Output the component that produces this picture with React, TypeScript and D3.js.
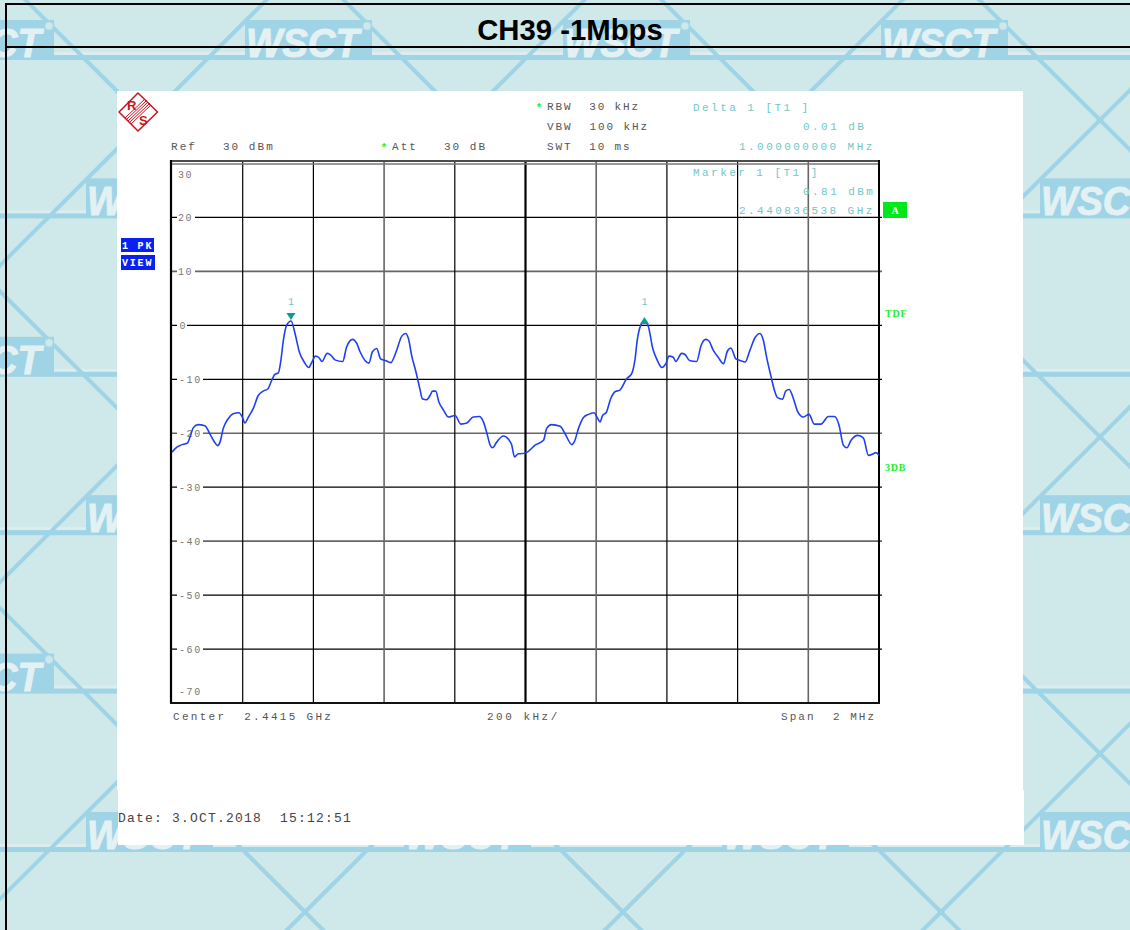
import React from "react";
import * as d3 from "d3";

const titleText = "CH39 -1Mbps";
const traceFreqKHz = [0,13,25,44,51,60,73,93,107,122,129,136,145,159,173,189,199,206,216,230,244,258,271,282,291,301,308,315,324,337,348,360,374,387,395,406,416,424,439,449,461,483,494,511,523,532,546,557,567,579,590,603,619,634,650,661,669,678,690,702,708,720,730,737,746,755,768,782,801,817,834,852,869,881,890,900,907,919,937,953,961,969,980,985,1005,1027,1051,1060,1074,1098,1112,1131,1138,1150,1164,1178,1194,1203,1211,1218,1228,1241,1253,1267,1286,1300,1310,1316,1326,1338,1348,1360,1371,1386,1397,1406,1418,1425,1442,1451,1464,1484,1497,1510,1519,1531,1546,1560,1571,1581,1595,1607,1621,1635,1649,1663,1673,1682,1695,1704,1713,1727,1736,1746,1758,1770,1786,1802,1817,1836,1857,1874,1887,1899,1909,1921,1940,1956,1970,1984,1991,2000];
const traceLevelDbm = [-23.5,-22.6,-22.2,-21.8,-20.7,-19,-18.4,-18.6,-20.1,-21.8,-22.3,-21.6,-19.1,-17.3,-16.4,-16.2,-17,-18.1,-17,-15.4,-13,-12.2,-11.8,-10.2,-9.1,-8.8,-6.5,-2.8,0,0.81,-1.5,-4.9,-6.8,-7.8,-6.9,-5.7,-6,-6.7,-5.2,-5.5,-6.4,-6.7,-4,-2.6,-3.4,-4.9,-6.5,-7,-4.9,-4.3,-6.2,-6.5,-6.9,-4.9,-2,-1.5,-2.5,-5.6,-8.6,-12,-13.6,-13.8,-13,-12.2,-12.2,-14.2,-15.7,-17,-16.7,-18.3,-18.1,-17,-16.9,-17.9,-19.8,-22.2,-22.7,-21.6,-20.5,-21.2,-22.2,-24.4,-23.8,-23.8,-23.5,-22.2,-21.3,-19.1,-18.4,-18.7,-20.1,-22.1,-21.6,-19.1,-17.1,-16.5,-16.2,-17.1,-17.9,-16.7,-16.2,-13.6,-12.3,-12,-9.9,-9,-6.2,-2.8,0,0.82,-0.3,-4.3,-6.2,-7.8,-7.1,-5.7,-5.9,-6.7,-5.2,-5.4,-6.5,-6.7,-3.7,-2.6,-2.9,-4.6,-6,-7.1,-4.8,-4.2,-6.2,-6.5,-6.8,-4.6,-2.3,-1.5,-2.8,-5.9,-9.6,-12,-13.4,-13.7,-12.2,-11.9,-13.6,-16,-17,-16.5,-18.3,-18.3,-16.9,-16.9,-18.5,-22.2,-22.7,-21.3,-20.4,-20.9,-24.1,-23.8,-23.6,-24.1];
const freqGridKHz = [200,400,600,800,1000,1200,1400,1600,1800];
const levelTicks = [30,20,10,0,-10,-20,-30,-40,-50,-60,-70];
const markerFreqKHz = [336.5,1336.5];
const markerLevelDbm = [0.81,0.82];
const watermarkRows = [-1,0,1,2,3,4,5];
const watermarkCols = [-2,-1,0,1,2,3,4];

const grayFreqLines = new Set([600,1200,1800]);
const grayLevelLines = new Set([10,-20,-40]);

const x = d3.scaleLinear().domain([0,2000]).range([172,879]);
const y = d3.scaleLinear().domain([30,-70]).range([163.5,703]);

const mono = "'Liberation Mono', monospace";
const GREY = "#555";
const TEAL = "#6fc8c8";
const WM = "#9fd4e6";

function T({ px, py, fill = GREY, size = 11, spacing = 2.05, children }: any) {
  return (
    <text x={px} y={py} fill={fill} fontFamily={mono} fontSize={size}
      style={{ letterSpacing: spacing, whiteSpace: "pre" }}>{children}</text>
  );
}

function Watermark() {
  const items: React.ReactNode[] = [];
  const dx = 318, dy = 158.4;
  watermarkRows.forEach((r) => {
    const yc = 120 + dy * r;
    const yb = 57 + dy * (r + 1);
    items.push(<rect key={`s${r}`} x={0} y={yb - 5} width={1130} height={3} fill="#dcedf0" />);
    items.push(<rect key={`h${r}`} x={0} y={yb - 2} width={1130} height={5} fill={WM} />);
    watermarkCols.forEach((c) => {
      const xc = 146 + dx * c + 159 * r;
      const lx = xc + 3;
      const visible = lx + 70 > 0 && lx - 70 < 1130 && yb < 930;
      items.push(
        <g key={`n${r}-${c}`}>
          <line x1={xc} y1={yc} x2={xc + dx / 2} y2={yc + dy} stroke={WM} strokeWidth={4} />
          <line x1={xc} y1={yc} x2={xc - dx / 2} y2={yc + dy} stroke={WM} strokeWidth={4} />
          {visible && (
            <>
              <rect x={lx - 63} y={yb - 37} width={127} height={39} fill={WM} />
              <circle cx={lx + 59} cy={yb - 31} r={4} fill="#cfe8e9" stroke="#b5dcea" strokeWidth={1} />
              <text x={lx - 62} y={yb} fill="#e4f1f3" stroke="#e4f1f3" strokeWidth={1}
                fontFamily="'Liberation Sans', sans-serif"
                fontWeight={700} fontStyle="italic" fontSize={41} textLength={113} lengthAdjust="spacingAndGlyphs">WSCT</text>
            </>
          )}
        </g>
      );
    });
  });
  return <g>{items}</g>;
}

function RsLogo() {
  const stripes = [-3, -1.5, 0, 1.5, 3];
  return (
    <g>
      <polygon points="138,93 157.5,112 138,131 119,112" fill="#fff" stroke="#cc1020" strokeWidth={1.5} strokeLinejoin="round" />
      {stripes.map((s) => (
        <line key={s} x1={128 + s} y1={121 + s} x2={148 + s} y2={102 + s} stroke="#cc1020" strokeWidth={1} />
      ))}
      <text x={127} y={110} fill="#cc1020" fontFamily="'Liberation Sans', sans-serif" fontWeight={700} fontSize={13}>R</text>
      <text x={139} y={125} fill="#cc1020" fontFamily="'Liberation Sans', sans-serif" fontWeight={700} fontSize={13}>S</text>
    </g>
  );
}

export default function App() {
  const line = d3.line<number>()
    .x((f) => x(f))
    .y((_, i) => y(traceLevelDbm[i]))
    .curve(d3.curveMonotoneX);
  const trace = line(traceFreqKHz) ?? "";
  const serif = "'Liberation Serif', serif";
  const GREEN = "#19f02c";

  return (
    <svg width={1130} height={930} viewBox="0 0 1130 930"
      style={{ position: "absolute", left: 0, top: 0, display: "block" }}>
      <rect width={1130} height={930} fill="#cfe8e9" />
      <Watermark />

      <rect x={117} y={91} width={906} height={699} fill="#fff" />
      <rect x={118} y={790} width={906} height={55} fill="#fff" />

      <rect x={5} y={3} width={1125} height={2} fill="#000" />
      <rect x={5} y={46} width={1125} height={2} fill="#000" />
      <rect x={5} y={3} width={2} height={927} fill="#000" />
      <text x={570} y={40} textAnchor="middle" fontFamily="'Liberation Sans', Arial, sans-serif"
        fontWeight={700} fontSize={29.3} fill="#000">{titleText}</text>

      <RsLogo />

      <T px={171} py={150}>{"Ref   30 dBm"}</T>
      <text x={384} y={151} textAnchor="middle" fill={GREEN} fontFamily={mono} fontWeight={700} fontSize={11}>*</text>
      <T px={392} py={150}>{"Att   30 dB"}</T>
      <text x={539} y={111} textAnchor="middle" fill={GREEN} fontFamily={mono} fontWeight={700} fontSize={11}>*</text>
      <T px={547} py={110} spacing={1.85}>{"RBW  30 kHz"}</T>
      <T px={547} py={130} spacing={1.9}>{"VBW  100 kHz"}</T>
      <T px={547} py={150} spacing={1.85}>{"SWT  10 ms"}</T>

      {/* grid */}
      {levelTicks.filter((v) => v < 30 && v > -70).map((v) => {
        const gray = grayLevelLines.has(v);
        return (
          <line key={v} x1={172} x2={882} y1={y(v)} y2={y(v)}
            stroke={gray ? "#666" : "#000"} strokeWidth={gray ? 1.6 : 1.2} />
        );
      })}
      {freqGridKHz.map((f) => {
        const gray = grayFreqLines.has(f);
        const mid = f === 1000;
        return (
          <line key={f} x1={x(f)} x2={x(f)} y1={162} y2={703}
            stroke={gray ? "#666" : "#000"} strokeWidth={mid ? 2.2 : gray ? 1.6 : 1.2} />
        );
      })}
      <line x1={172} x2={880} y1={161} y2={161} stroke="#111" strokeWidth={1.6} />
      <line x1={172} x2={880} y1={164} y2={164} stroke="#777" strokeWidth={1.4} />
      <line x1={171} x2={171} y1={160} y2={703} stroke="#000" strokeWidth={2.2} />
      <line x1={879} x2={879} y1={160} y2={703} stroke="#000" strokeWidth={2} />
      <line x1={170} x2={880} y1={703} y2={703} stroke="#111" strokeWidth={2.2} />

      {/* y tick labels */}
      {levelTicks.map((v) => {
        const edge = v === 30 || v === -70;
        const ly = y(v) + (v === 30 ? 14 : v === -70 ? -8 : 3.5);
        const labelX = v < 0 ? 179 : v === 0 ? 179.5 : 178;
        const gapEnd = v < 0 ? 203 : v === 0 ? 187 : 195;
        return (
          <g key={`l${v}`}>
            {!edge && <rect x={177} y={y(v) - 3} width={gapEnd - 177} height={6} fill="#fff" />}
            <T px={labelX} py={ly} fill="#777" size={10} spacing={1.6}>
              {v < 0 ? `-${-v}` : `${v}`}
            </T>
          </g>
        );
      })}

      <T px={693} py={111} fill={TEAL} spacing={2.45}>{"Delta 1 [T1 ]"}</T>
      <T px={803} py={130} fill={TEAL} spacing={2.45}>{"0.01 dB"}</T>
      <T px={739} py={150} fill={TEAL} spacing={2.45}>{"1.000000000 MHz"}</T>
      <T px={693} py={176} fill={TEAL} spacing={2.45}>{"Marker 1 [T1 ]"}</T>
      <T px={803} py={195} fill={TEAL} spacing={2.45}>{"0.81 dBm"}</T>
      <T px={739} py={214} fill={TEAL} spacing={2.45}>{"2.440836538 GHz"}</T>

      {/* trace */}
      <path d={trace} fill="none" stroke="#2040f0" strokeWidth={1.6} strokeLinejoin="round" />

      {/* markers */}
      {markerFreqKHz.map((f, i) => {
        const mx = x(f);
        const my = y(markerLevelDbm[i]);
        const down = i === 0;
        const pts = down
          ? `${mx - 4.5},${my - 8} ${mx + 4.5},${my - 8} ${mx},${my - 1}`
          : `${mx - 4.5},${my + 3} ${mx + 4.5},${my + 3} ${mx},${my - 4}`;
        return (
          <g key={f}>
            <polygon points={pts} fill="#119a9a" />
            <T px={mx - 3} py={305} fill={TEAL} size={10} spacing={0}>1</T>
          </g>
        );
      })}

      {/* side badges */}
      <rect x={121} y={238} width={33} height={14} fill="#0a20f0" />
      <text x={122} y={249} fill="#fff" fontFamily={mono} fontWeight={700} fontSize={10} style={{ letterSpacing: 1.8, whiteSpace: "pre" }}>{"1 PK"}</text>
      <rect x={121} y={255} width={34} height={15} fill="#0a20f0" />
      <text x={122} y={266} fill="#fff" fontFamily={mono} fontWeight={700} fontSize={10} style={{ letterSpacing: 1.8 }}>VIEW</text>
      <rect x={883} y={202} width={24} height={16} fill="#00e81c" />
      <text x={895} y={214} textAnchor="middle" fill="#fff" fontFamily={serif} fontWeight={700} fontSize={10}>A</text>
      <text x={885} y={317} fill={GREEN} fontFamily={serif} fontWeight={700} fontSize={10} style={{ letterSpacing: 0.8 }}>TDF</text>
      <text x={885} y={471} fill={GREEN} fontFamily={serif} fontWeight={700} fontSize={10} style={{ letterSpacing: 0.8 }}>3DB</text>

      {/* footer */}
      <T px={173} py={720} spacing={2.3}>{"Center  2.4415 GHz"}</T>
      <T px={487} py={720} spacing={2.5}>{"200 kHz/"}</T>
      <T px={781} py={720}>{"Span  2 MHz"}</T>
      <T px={118} py={822} fill="#444" size={13} spacing={1.2}>{"Date: 3.OCT.2018  15:12:51"}</T>
    </svg>
  );
}
